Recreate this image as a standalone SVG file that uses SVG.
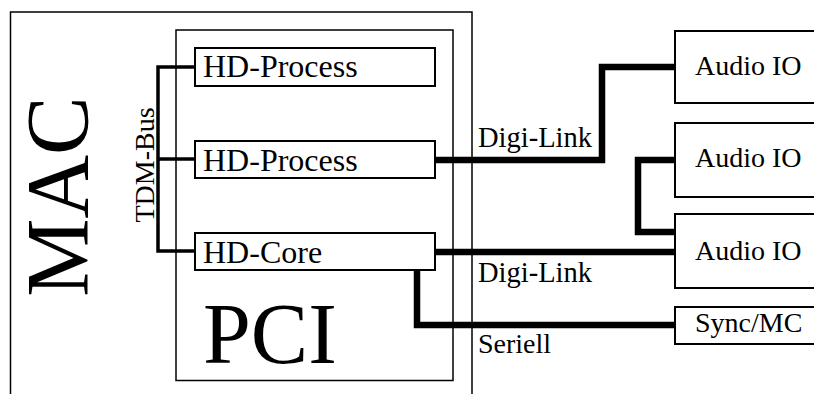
<svg xmlns="http://www.w3.org/2000/svg" width="814" height="394" viewBox="0 0 814 394" font-family="Liberation Serif, Times New Roman, Tinos, serif">
<style>
  .frame{fill:none;stroke:#000;stroke-width:1.5}
  .box{fill:#fff;stroke:#000;stroke-width:2}
  text{font-family:'Liberation Serif','Times New Roman',Tinos,serif;fill:#000}
  .bus{fill:none;stroke:#000;stroke-width:3.5}
  .link{fill:none;stroke:#000;stroke-width:6.5}
</style>
<rect width="814" height="394" fill="#fff"/>
<g id="mac">
  <rect class="frame" x="10.5" y="12" width="461.5" height="400"/>
  <text font-size="88" transform="translate(87,196.5) rotate(-90)" text-anchor="middle">MAC</text>
</g>
<g id="pci">
  <rect class="frame" x="176" y="30" width="277" height="350.5"/>
  <text font-size="86" x="203" y="363">PCI</text>
</g>
<g id="connectors">
  <path class="bus" d="M195,67 H158 V251 H195 M158,159 H195"/>
  <path class="link" d="M435,160 H602 V67 H675"/>
  <path class="link" d="M675,160 H638 V232 H675"/>
  <path class="link" d="M435,252 H675"/>
  <path class="link" d="M417,270 V325 H675"/>
</g>
<g id="tdm-label">
  <text font-size="28" transform="translate(154,165) rotate(-90)" text-anchor="middle">TDM-Bus</text>
</g>
<g id="hd-process-1">
  <rect class="box" x="195" y="48" width="240" height="38"/>
  <text font-size="32" x="203" y="77">HD-Process</text>
</g>
<g id="hd-process-2">
  <rect class="box" x="195" y="141" width="240" height="37"/>
  <text font-size="32" x="203" y="171">HD-Process</text>
</g>
<g id="hd-core">
  <rect class="box" x="195" y="233" width="240" height="37"/>
  <text font-size="32" x="203" y="263">HD-Core</text>
</g>
<g id="audio-io-1">
  <rect class="box" x="675" y="31" width="150" height="72"/>
  <text font-size="28" x="695" y="75">Audio IO</text>
</g>
<g id="audio-io-2">
  <rect class="box" x="675" y="123" width="150" height="74"/>
  <text font-size="28" x="695" y="167">Audio IO</text>
</g>
<g id="audio-io-3">
  <rect class="box" x="675" y="214" width="150" height="74"/>
  <text font-size="28" x="695" y="260">Audio IO</text>
</g>
<g id="sync-mc">
  <rect class="box" x="675" y="307" width="150" height="37"/>
  <text font-size="28" x="695" y="332">Sync/MC</text>
</g>
<g id="labels">
  <text font-size="28.5" x="478" y="147">Digi-Link</text>
  <text font-size="28.5" x="478" y="282">Digi-Link</text>
  <text font-size="28" x="478" y="353">Seriell</text>
</g>
</svg>
